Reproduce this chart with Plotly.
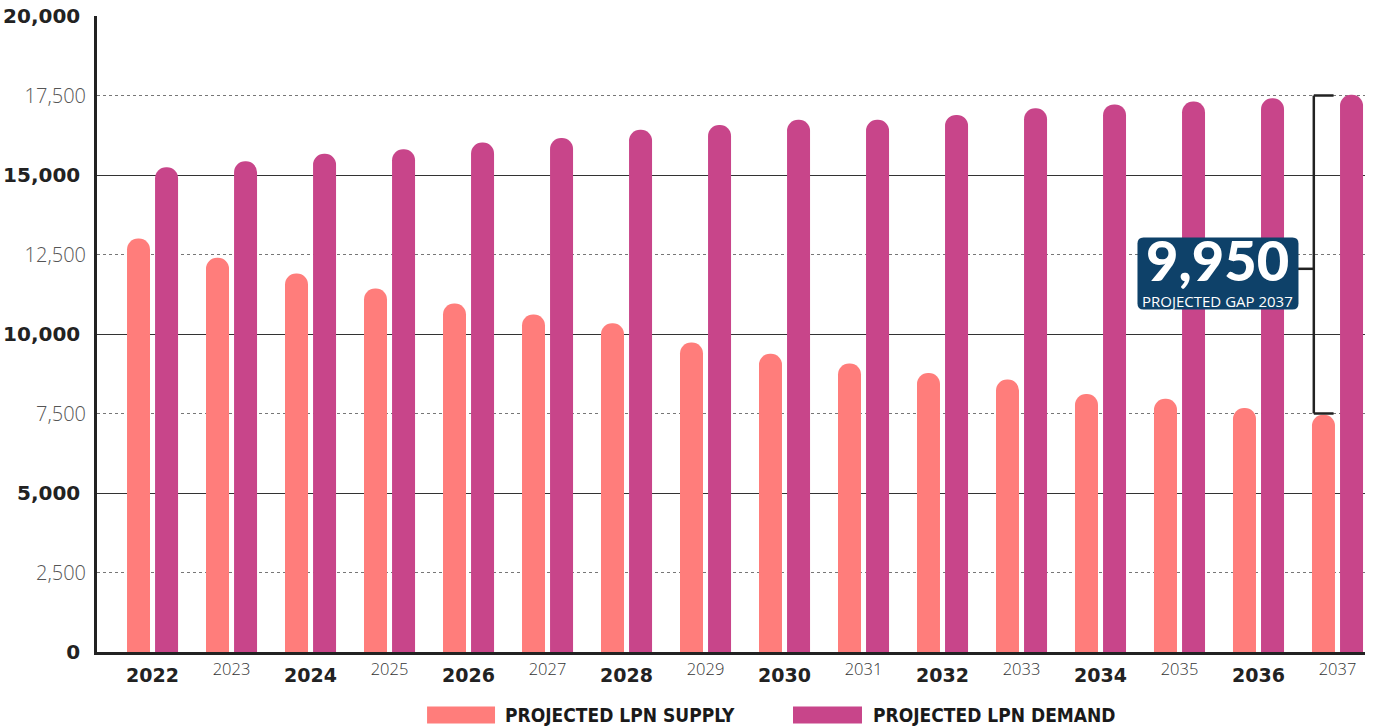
import plotly.graph_objects as go

years = list(range(2022, 2038))
supply = [13000, 12400, 11900, 11430, 10960, 10610, 10340, 9730, 9380, 9070, 8770, 8570, 8110, 7960, 7670, 7460]
demand = [15240, 15430, 15670, 15810, 16020, 16160, 16420, 16570, 16740, 16740, 16890, 17100, 17220, 17310, 17410, 17520]
projected_gap_2037 = 9950
series_names = ["PROJECTED LPN SUPPLY", "PROJECTED LPN DEMAND"]
major_y = [0, 5000, 10000, 15000, 20000]
minor_y = [2500, 7500, 12500, 17500]
even_years = [y for y in years if y % 2 == 0]
odd_years = [y for y in years if y % 2 == 1]

SUPPLY_C = "#FF7D7B"
DEMAND_C = "#C8458A"
BOX_C = "#0E4169"

xr = [2021.297, 2037.348]

fig = go.Figure()
fig.add_bar(x=years, y=supply, name=series_names[0], marker_color=SUPPLY_C, marker_line_width=0)
fig.add_bar(x=years, y=demand, name=series_names[1], marker_color=DEMAND_C, marker_line_width=0)
# helper traces so that the overlay axes are drawn
fig.add_scatter(x=[None], y=[None], xaxis="x2", yaxis="y", showlegend=False, hoverinfo="skip")
fig.add_scatter(x=[None], y=[None], xaxis="x", yaxis="y2", showlegend=False, hoverinfo="skip")

# bracket for the gap (spans the 7,500 and 17,500 guide lines)
b_top, b_bot = minor_y[-1], minor_y[1]
bx = years[-1] - 0.30
lc = dict(color="#222", width=2.5)
shapes = [
    dict(type="line", xref="x", yref="y", x0=bx, x1=bx, y0=b_bot, y1=b_top, line=lc),
    dict(type="line", xref="x", yref="y", x0=bx, x1=years[-1] - 0.05, y0=b_top, y1=b_top, line=lc),
    dict(type="line", xref="x", yref="y", x0=bx, x1=years[-1] - 0.05, y0=b_bot, y1=b_bot, line=lc),
    dict(type="line", xref="x", yref="y", x0=years[-1] - 0.50, x1=bx, y0=12050, y1=12050, line=lc),
]
# rounded label box
w, h, r = 80.5, 36, 6
path = (f"M {-w+r},{-h} L {w-r},{-h} Q {w},{-h} {w},{-h+r} L {w},{h-r} Q {w},{h} {w-r},{h} "
        f"L {-w+r},{h} Q {-w},{h} {-w},{h-r} L {-w},{-h+r} Q {-w},{-h} {-w+r},{-h} Z")
box_x = years[-1] - 1.513
box_y = 11903
shapes.append(dict(type="path", xref="x", yref="y", xsizemode="pixel", ysizemode="pixel",
                   xanchor=box_x, yanchor=box_y, path=path, fillcolor=BOX_C, line=dict(width=0)))

# legend swatches (paper coords)
ly0, ly1 = -0.0856, -0.1123
shapes.append(dict(type="rect", xref="paper", yref="paper", x0=0.2603, x1=0.3139, y0=ly1, y1=ly0, fillcolor=SUPPLY_C, line=dict(width=0)))
shapes.append(dict(type="rect", xref="paper", yref="paper", x0=0.5489, x1=0.6033, y0=ly1, y1=ly0, fillcolor=DEMAND_C, line=dict(width=0)))

legend_font = dict(family="DejaVu Sans Condensed", size=19, color="#1a1a1a", weight="bold")
annotations = [
    dict(x=box_x, y=12350, xref="x", yref="y", text=f"{projected_gap_2037:,}", showarrow=False, xanchor="center", yanchor="middle",
         font=dict(family="Lato", size=56, color="white", weight=900)),
    dict(x=box_x, y=11030, xref="x", yref="y", text="PROJECTED GAP " + str(years[-1]), showarrow=False, xanchor="center", yanchor="middle",
         font=dict(family="Open Sans", size=15, color="white", weight=400)),
    dict(x=0.3202, y=(ly0 + ly1) / 2, xref="paper", yref="paper", text=series_names[0], showarrow=False,
         xanchor="left", yanchor="middle", font=legend_font),
    dict(x=0.6104, y=(ly0 + ly1) / 2, xref="paper", yref="paper", text=series_names[1], showarrow=False,
         xanchor="left", yanchor="middle", font=legend_font),
]

fig.update_layout(
    width=1400, height=726,
    margin=dict(l=97, r=35, t=16, b=73.5, autoexpand=False),
    paper_bgcolor="white", plot_bgcolor="white",
    barmode="group", bargap=0.29, bargroupgap=0.18, barcornerradius="50%",
    showlegend=False,
    shapes=shapes, annotations=annotations,
    xaxis=dict(range=xr, tickmode="array", tickvals=even_years, ticktext=[str(y) for y in even_years],
               tickfont=dict(family="DejaVu Sans", size=19, color="#222", weight="bold"),
               showgrid=False, zeroline=False, showline=True, linecolor="#222", linewidth=2.5,
               ticks="", ticklabelstandoff=4, automargin=False),
    xaxis2=dict(overlaying="x", anchor="y", side="bottom", range=xr, tickmode="array", tickvals=odd_years,
                ticktext=[str(y) for y in odd_years],
                tickfont=dict(family="Open Sans", size=16.5, color="#333", weight=300),
                showgrid=False, zeroline=False, showline=False, ticks="", ticklabelstandoff=5, automargin=False),
    yaxis=dict(range=[0, 20000], tickmode="array", tickvals=major_y, tickformat=",",
               tickfont=dict(family="DejaVu Sans", size=20, color="#222", weight="bold"),
               showgrid=True, gridcolor="#333", gridwidth=1.3, zeroline=False,
               showline=True, linecolor="#222", linewidth=2.5, ticks="", ticklabelstandoff=10, automargin=False),
    yaxis2=dict(overlaying="y", anchor="x", side="left", range=[0, 20000], tickmode="array", tickvals=minor_y,
                tickformat=",", tickfont=dict(family="Open Sans", size=20, color="#555", weight=300),
                showgrid=True, gridcolor="#777", gridwidth=1.3, griddash="dot", zeroline=False,
                showline=False, ticks="", ticklabelstandoff=10, automargin=False),
)

fig.write_html("out.html", config={"displayModeBar": False},
               post_script="document.body.style.margin='0px';")
